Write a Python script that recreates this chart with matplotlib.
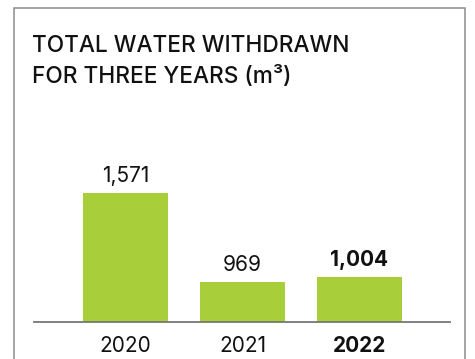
import matplotlib
matplotlib.use("Agg")
import matplotlib.pyplot as plt
from matplotlib.patches import Rectangle

YEARS = ["2020", "2021", "2022"]
WITHDRAWN = [1571, 969, 1004]
VALUE_LABELS = ["1,571", "969", "1,004"]
BOLD_YEAR = "2022"

TITLE = "TOTAL WATER WITHDRAWN\nFOR THREE YEARS (m³)"
BAR_COLOR = "#A8CE3A"
TEXT_COLOR = "#111111"

plt.rcParams["font.family"] = ["Inter", "DejaVu Sans"]

fig = plt.figure(figsize=(4.75, 3.59), dpi=100)

# outer frame, open at the bottom
fig.patches.append(Rectangle((14 / 475, -0.2), 451 / 475, 1.2 - 8 / 359,
                             transform=fig.transFigure, fill=False,
                             edgecolor="#8c8c8c", linewidth=1.1))

fig.text(32 / 475, 1 - 35 / 359, TITLE, ha="left", va="top", fontsize=16.3,
         color=TEXT_COLOR, linespacing=1.5, fontweight="medium")

ax = fig.add_axes([34 / 475, 37 / 359, 416 / 475, 172 / 359])
x = list(range(len(YEARS)))
bars = ax.bar(x, WITHDRAWN, width=0.726, color=BAR_COLOR, zorder=2)

ax.set_xlim(-0.782, 2.774)
ax.set_ylim(700, 1860)

for i, (b, lab) in enumerate(zip(bars, VALUE_LABELS)):
    weight = "bold" if YEARS[i] == BOLD_YEAR else "normal"
    ax.annotate(lab, (b.get_x() + b.get_width() / 2, b.get_height()),
                xytext=(0, 5), textcoords="offset points", ha="center",
                va="bottom", fontsize=15, color=TEXT_COLOR, fontweight=weight)

ax.set_xticks(x)
ax.set_xticklabels(YEARS)
for t in ax.get_xticklabels():
    t.set_fontsize(15)
    t.set_color(TEXT_COLOR)
    if t.get_text() == BOLD_YEAR:
        t.set_fontweight("bold")
ax.tick_params(axis="x", length=0, pad=10)
ax.set_yticks([])

for side in ["top", "right", "left"]:
    ax.spines[side].set_visible(False)
ax.spines["bottom"].set_color("#777777")
ax.spines["bottom"].set_linewidth(1.3)
ax.spines["bottom"].set_zorder(3)

fig.savefig("out.png", dpi=100)
